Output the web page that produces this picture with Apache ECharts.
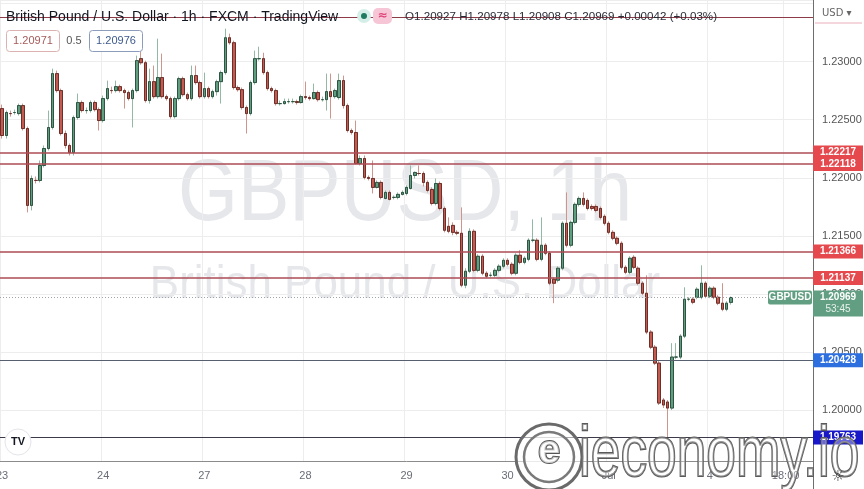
<!DOCTYPE html>
<html><head><meta charset="utf-8">
<script src="https://cdn.jsdelivr.net/npm/echarts@6/dist/echarts.min.js"></script>
<style>html,body{margin:0;padding:0;background:#fff}#c{width:864px;height:489px}</style>
</head><body><div id="c"></div>
<script>
const openP = [1.22596,1.22364,1.22553,1.22562,1.22553,1.22622,1.22424,1.21762,1.21977,1.21977,1.22106,1.22252,1.22433,1.22897,1.22751,1.22381,1.22278,1.22218,1.22519,1.22648,1.22579,1.22579,1.22648,1.22587,1.22493,1.22682,1.22751,1.22751,1.22785,1.22751,1.22734,1.22682,1.22751,1.23026,1.22991,1.22665,1.22828,1.22699,1.22863,1.22699,1.22682,1.22527,1.22682,1.22854,1.22716,1.22682,1.22880,1.22820,1.22699,1.22768,1.22699,1.22742,1.22828,1.22906,1.23206,1.23163,1.22777,1.22759,1.22605,1.22553,1.22820,1.23026,1.23026,1.22906,1.22768,1.22751,1.22639,1.22639,1.22656,1.22656,1.22656,1.22648,1.22699,1.22691,1.22682,1.22734,1.22673,1.22673,1.22742,1.22699,1.22691,1.22837,1.22622,1.22407,1.22390,1.22123,1.22166,1.22003,1.21994,1.21917,1.21960,1.21822,1.21874,1.21831,1.21831,1.21857,1.21865,1.21908,1.22020,1.22037,1.22037,1.21960,1.21899,1.21779,1.21951,1.21736,1.21582,1.21590,1.21530,1.21522,1.21075,1.21195,1.21539,1.21203,1.21324,1.21178,1.21160,1.21160,1.21203,1.21238,1.21289,1.21255,1.21178,1.21333,1.21272,1.21298,1.21462,1.21462,1.21298,1.21419,1.21350,1.21126,1.21118,1.21221,1.21608,1.21419,1.21616,1.21771,1.21822,1.21805,1.21753,1.21753,1.21736,1.21668,1.21608,1.21530,1.21479,1.21436,1.21229,1.21186,1.21315,1.21221,1.21092,1.21006,1.20671,1.20541,1.20404,1.20086,1.20069,1.20017,1.20456,1.20456,1.20636,1.20954,1.20954,1.20971,1.20971,1.21092,1.20980,1.21049,1.20971,1.20920,1.20868,1.20927];
const closeP = [1.22364,1.22562,1.22553,1.22562,1.22622,1.22424,1.21762,1.21994,1.21977,1.22106,1.22252,1.22433,1.22897,1.22751,1.22381,1.22278,1.22218,1.22519,1.22648,1.22579,1.22579,1.22648,1.22587,1.22493,1.22682,1.22768,1.22751,1.22785,1.22751,1.22734,1.22682,1.22751,1.23009,1.22991,1.22665,1.22828,1.22699,1.22863,1.22699,1.22682,1.22527,1.22682,1.22854,1.22716,1.22682,1.22880,1.22820,1.22699,1.22768,1.22699,1.22742,1.22828,1.22906,1.23206,1.23163,1.22777,1.22759,1.22605,1.22553,1.22820,1.23026,1.23026,1.22906,1.22768,1.22751,1.22639,1.22639,1.22656,1.22656,1.22656,1.22648,1.22699,1.22691,1.22682,1.22734,1.22673,1.22673,1.22742,1.22699,1.22751,1.22837,1.22622,1.22407,1.22390,1.22123,1.22166,1.22003,1.21994,1.21917,1.21960,1.21831,1.21874,1.21814,1.21831,1.21857,1.21874,1.21917,1.22020,1.22046,1.22037,1.21960,1.21891,1.21779,1.21951,1.21736,1.21548,1.21539,1.21530,1.21522,1.21075,1.21195,1.21539,1.21203,1.21324,1.21178,1.21152,1.21160,1.21203,1.21238,1.21289,1.21255,1.21178,1.21333,1.21272,1.21307,1.21462,1.21462,1.21298,1.21419,1.21350,1.21092,1.21092,1.21221,1.21608,1.21419,1.21616,1.21771,1.21822,1.21771,1.21736,1.21736,1.21719,1.21659,1.21608,1.21530,1.21479,1.21436,1.21229,1.21186,1.21307,1.21229,1.21092,1.21006,1.20671,1.20541,1.20404,1.20060,1.20043,1.20017,1.20456,1.20456,1.20636,1.20954,1.20954,1.20928,1.21040,1.21092,1.20980,1.21049,1.20971,1.20920,1.20868,1.20920,1.20969];
const highP = [1.22630,1.22579,1.22579,1.22587,1.22639,1.22639,1.22441,1.22020,1.22011,1.22149,1.22278,1.22579,1.22940,1.22923,1.22768,1.22407,1.22295,1.22536,1.22725,1.22665,1.22605,1.22665,1.22665,1.22605,1.22708,1.22837,1.22785,1.22837,1.22802,1.22768,1.22751,1.22768,1.23052,1.23095,1.23009,1.22940,1.22966,1.23198,1.23069,1.22716,1.22699,1.22699,1.22871,1.22871,1.22734,1.22966,1.22966,1.22837,1.22906,1.22785,1.22759,1.22845,1.22923,1.23284,1.23241,1.23181,1.22794,1.22777,1.22622,1.22837,1.23095,1.23129,1.23077,1.22923,1.22785,1.22768,1.22665,1.22682,1.22682,1.22682,1.22673,1.22716,1.22828,1.22708,1.22811,1.22751,1.22699,1.22897,1.22897,1.22768,1.22897,1.22880,1.22639,1.22424,1.22493,1.22192,1.22192,1.22020,1.22149,1.21977,1.21977,1.21891,1.21891,1.21848,1.21874,1.21891,1.21934,1.22106,1.22054,1.22106,1.22054,1.21977,1.21917,1.21994,1.21968,1.21753,1.21659,1.21616,1.21548,1.21745,1.21221,1.21565,1.21556,1.21341,1.21341,1.21195,1.21186,1.21221,1.21255,1.21307,1.21307,1.21272,1.21350,1.21376,1.21324,1.21479,1.21642,1.21479,1.21659,1.21436,1.21367,1.21143,1.21238,1.21625,1.21874,1.21633,1.21788,1.21839,1.21874,1.21822,1.21771,1.21771,1.21753,1.21685,1.21625,1.21548,1.21496,1.21453,1.21246,1.21324,1.21333,1.21238,1.21109,1.21160,1.20688,1.20559,1.20421,1.20103,1.20086,1.20576,1.20576,1.20653,1.21057,1.20971,1.20971,1.21057,1.21246,1.21109,1.21066,1.21066,1.20989,1.21092,1.20937,1.20978];
const lowP = [1.22338,1.22338,1.22527,1.22544,1.22536,1.22407,1.21702,1.21719,1.21951,1.21960,1.22089,1.22235,1.22415,1.22734,1.22364,1.22252,1.22192,1.22192,1.22501,1.22562,1.22553,1.22562,1.22570,1.22407,1.22476,1.22665,1.22725,1.22734,1.22734,1.22596,1.22665,1.22433,1.22734,1.22974,1.22648,1.22639,1.22682,1.22682,1.22682,1.22665,1.22510,1.22510,1.22665,1.22699,1.22665,1.22665,1.22802,1.22682,1.22682,1.22682,1.22682,1.22708,1.22639,1.22888,1.23146,1.22759,1.22742,1.22587,1.22381,1.22536,1.22802,1.23009,1.22888,1.22751,1.22734,1.22622,1.22622,1.22630,1.22639,1.22639,1.22630,1.22639,1.22673,1.22665,1.22673,1.22656,1.22656,1.22579,1.22510,1.22682,1.22673,1.22596,1.22390,1.22372,1.22115,1.22106,1.21986,1.21977,1.21865,1.21908,1.21814,1.21814,1.21805,1.21814,1.21814,1.21848,1.21848,1.21899,1.21994,1.22020,1.21925,1.21874,1.21762,1.21762,1.21719,1.21530,1.21522,1.21505,1.21505,1.21057,1.21049,1.21178,1.21186,1.21186,1.21160,1.21135,1.21143,1.21143,1.21186,1.21221,1.21238,1.21160,1.21160,1.21255,1.21255,1.21281,1.21444,1.21281,1.21281,1.21333,1.21075,1.20920,1.21100,1.21203,1.21401,1.21401,1.21599,1.21753,1.21753,1.21719,1.21719,1.21702,1.21642,1.21590,1.21513,1.21462,1.21419,1.21212,1.21169,1.21169,1.21212,1.21075,1.20989,1.20653,1.20524,1.20387,1.20043,1.20017,1.19763,1.20000,1.20438,1.20438,1.20619,1.20937,1.20911,1.20954,1.20954,1.20963,1.20963,1.20954,1.20903,1.20851,1.20851,1.20908];

const slotCount = 193;
const tickLabels = {0:'23',24:'24',48:'27',72:'28',96:'29',120:'30',144:'Jul',168:'4',186:'18:00'};
const resistanceLevels = [1.22217,1.22118,1.21366,1.21137];
const supportLevel = 1.20428;
const lowLevel = 1.19763;
const topLevel = 1.23385;
const lastPrice = 1.20969;
const countdown = '53:45';
const symbolName = 'GBPUSD';
const titleText = 'British Pound / U.S. Dollar · 1h · FXCM · TradingView';
const ohlcText = 'O1.20927 H1.20978 L1.20908 C1.20969 +0.00042 (+0.03%)';
const bidAsk = ['1.20971','0.5','1.20976'];
const yMin = 1.19561, yMax = 1.23531;

const categories = Array.from({length: slotCount}, (_, i) => String(i));
const fullData = openP.map((o, i) => [o, closeP[i], lowP[i], highP[i]]);
const bodyData = openP.map((o, i) => [o, closeP[i], Math.min(o, closeP[i]), Math.max(o, closeP[i])]);

const F = '"Liberation Sans", "DejaVu Sans", sans-serif';
const chart = echarts.init(document.getElementById('c'), null, {renderer: 'canvas'});

const hl = (v, color, width, type) => ({yAxis: v, lineStyle: {color, width, type: type || 'solid'}});

chart.setOption({
  animation: false,
  backgroundColor: '#ffffff',
  grid: {left: 0, right: 51, top: 0, bottom: 28, containLabel: false, outerBoundsMode: 'none'},
  xAxis: {
    type: 'category', data: categories, boundaryGap: true,
    axisLine: {show: true, lineStyle: {color: '#8c8c8c', width: 1}},
    axisTick: {show: false},
    axisLabel: {interval: (i) => (i in tickLabels), formatter: (v, i) => tickLabels[i] || '', color: '#6a6d78', fontSize: 11, margin: 9, fontFamily: F},
    splitLine: {show: true, interval: (i) => (i in tickLabels), lineStyle: {color: '#ededed', width: 1}}
  },
  yAxis: {
    type: 'value', position: 'right', min: yMin, max: yMax, splitNumber: 8,
    axisLine: {show: true, lineStyle: {color: '#6e6e6e', width: 1}},
    axisTick: {show: false},
    axisLabel: {showMinLabel: false, showMaxLabel: false, formatter: (v) => v > 1.2326 ? '' : v.toFixed(5), color: '#555', fontSize: 11, margin: 9, fontFamily: F},
    splitLine: {show: true, lineStyle: {color: '#ededed', width: 1}}
  },
  series: [
    {
      type: 'candlestick', data: fullData, barWidth: 3, silent: true,
      itemStyle: {color: '#5f9f80', color0: '#c55a50', borderColor: '#93b8a3', borderColor0: '#cf948c', borderWidth: 1},
      markLine: {
        silent: true, symbol: 'none', precision: 5, label: {show: false}, animation: false,
        data: [
          hl(topLevel, '#8d3b46', 1),
          ...resistanceLevels.map(v => hl(v, '#ad4b55', 1.5)),
          hl(supportLevel, '#56606e', 1.2),
          hl(lowLevel, '#3a3a4a', 1.2),
          hl(lastPrice, '#a0a4ab', 1, [1, 2])
        ]
      }
    },
    {
      type: 'candlestick', data: bodyData, barWidth: 3, silent: true,
      itemStyle: {color: '#5f9f80', color0: '#c55a50', borderColor: '#2f5443', borderColor0: '#6b302a', borderWidth: 1}
    }
  ]
});

const py = (v) => chart.convertToPixel({yAxisIndex: 0}, v);
const gEls = [];
const txt = (x, y, text, font, fill, align, extra) => Object.assign({type: 'text', x, y, style: {text, font, fill, align: align || 'left', textAlign: align || 'left', verticalAlign: 'middle', textVerticalAlign: 'middle'}}, extra || {});

// watermark
gEls.push(Object.assign(txt(405, 196, 'GBPUSD, 1h', '88px ' + F, '#e6e7ea', 'center'), {scaleX: 0.876, z: -10}));
gEls.push(Object.assign(txt(405, 285, 'British Pound / U.S. Dollar', '46px ' + F, '#e6e7ea', 'center'), {scaleX: 0.955, z: -10}));

// header
gEls.push(txt(6, 17, titleText, '14px ' + F, '#131722', 'left', {z: 50}));
gEls.push({type: 'circle', shape: {cx: 364, cy: 16, r: 7}, style: {fill: '#d5efe8'}, z: 50});
gEls.push({type: 'circle', shape: {cx: 364, cy: 16, r: 3}, style: {fill: '#1e7b5f'}, z: 51});
gEls.push({type: 'rect', shape: {x: 373, y: 8, width: 19, height: 16, r: 5}, style: {fill: '#f6c6d6'}, z: 50});
gEls.push(txt(382.5, 16, '≈', 'bold 12px "DejaVu Sans"', '#e0457b', 'center', {z: 51}));
gEls.push(txt(405, 17, ohlcText, '11.6px ' + F, '#2a2e39', 'left', {z: 50}));
gEls.push({type: 'rect', shape: {x: 6.5, y: 30.5, width: 53, height: 21, r: 3}, style: {fill: '#fff', stroke: '#dcb1b1', lineWidth: 1}, z: 50});
gEls.push(txt(33, 41, bidAsk[0], '11px ' + F, '#a55a5a', 'center', {z: 51}));
gEls.push(txt(74, 41, bidAsk[1], '11px ' + F, '#555', 'center', {z: 51}));
gEls.push({type: 'rect', shape: {x: 89.5, y: 30.5, width: 53, height: 21, r: 3}, style: {fill: '#fff', stroke: '#8c9cbc', lineWidth: 1}, z: 50});
gEls.push(txt(116, 41, bidAsk[2], '11px ' + F, '#3d5a8c', 'center', {z: 51}));

// price axis header and extras
gEls.push(txt(822, 13, 'USD ▾', '10px "DejaVu Sans"', '#666', 'left', {z: 50}));
gEls.push({type: 'line', shape: {x1: 815, y1: 23, x2: 862, y2: 23}, style: {stroke: '#f2c9d2', lineWidth: 1.5}, z: 50});
gEls.push({type: 'line', shape: {x1: 813.5, y1: 461, x2: 813.5, y2: 489}, style: {stroke: '#6e6e6e', lineWidth: 1}, z: 50});
gEls.push(txt(838, 477, '☼', '15px "DejaVu Sans"', '#333', 'center', {z: 210}));

// level tags
const tag = (v, color, text) => {
  const y = py(v);
  gEls.push({type: 'rect', shape: {x: 813, y: y - 7, width: 50, height: 14}, style: {fill: color}, z: 100});
  gEls.push(txt(838, y, text, 'bold 10px ' + F, '#ffffff', 'center', {z: 101}));
};
resistanceLevels.forEach(v => tag(v, '#e5484d', v.toFixed(5)));
tag(supportLevel, '#2e6fe0', supportLevel.toFixed(5));
tag(lowLevel, '#1818c8', lowLevel.toFixed(5));
const ly = py(lastPrice);
gEls.push({type: 'rect', shape: {x: 813, y: ly - 7, width: 50, height: 26}, style: {fill: '#629f82'}, z: 100});
gEls.push(txt(838, ly, lastPrice.toFixed(5), 'bold 10px ' + F, '#ffffff', 'center', {z: 101}));
gEls.push(txt(838, ly + 12, countdown, '10px ' + F, '#e8f3ed', 'center', {z: 101}));
gEls.push({type: 'rect', shape: {x: 768, y: ly - 7, width: 44, height: 14, r: 2}, style: {fill: '#629f82'}, z: 100});
gEls.push(txt(790, ly, symbolName, 'bold 10px ' + F, '#ffffff', 'center', {z: 101}));

// TradingView logo
gEls.push({type: 'circle', shape: {cx: 18, cy: 442, r: 13}, style: {fill: '#fff', stroke: '#e3e5ea', lineWidth: 1}, z: 60});
gEls.push(txt(18, 442, 'TV', 'bold 11px ' + F, '#131722', 'center', {z: 61}));

// ieconomy.io watermark (semi-transparent fill so underlying labels show)
gEls.push({type: 'circle', shape: {cx: 549, cy: 457, r: 33}, style: {fill: 'rgba(255,255,255,0.55)', stroke: '#6a6a6a', lineWidth: 3}, z: 200});
gEls.push({type: 'circle', shape: {cx: 549, cy: 457, r: 25}, style: {fill: 'rgba(255,255,255,0.6)', stroke: '#7a7a7a', lineWidth: 2.5}, z: 201});
gEls.push({type: 'text', x: 549, y: 452, z: 202, style: {text: 'e', font: 'bold 40px ' + F, fill: 'rgba(255,255,255,0.7)', stroke: '#555', lineWidth: 2, align: 'center', verticalAlign: 'middle'}});
gEls.push({type: 'text', x: 579, y: 456, scaleX: 0.74, z: 202, style: {text: 'ieconomy.io', font: '72px ' + F, fill: 'rgba(255,255,255,0.35)', stroke: '#5a5a5a', lineWidth: 2.2, align: 'left', verticalAlign: 'middle'}});

chart.setOption({graphic: {elements: gEls}});
</script></body></html>
